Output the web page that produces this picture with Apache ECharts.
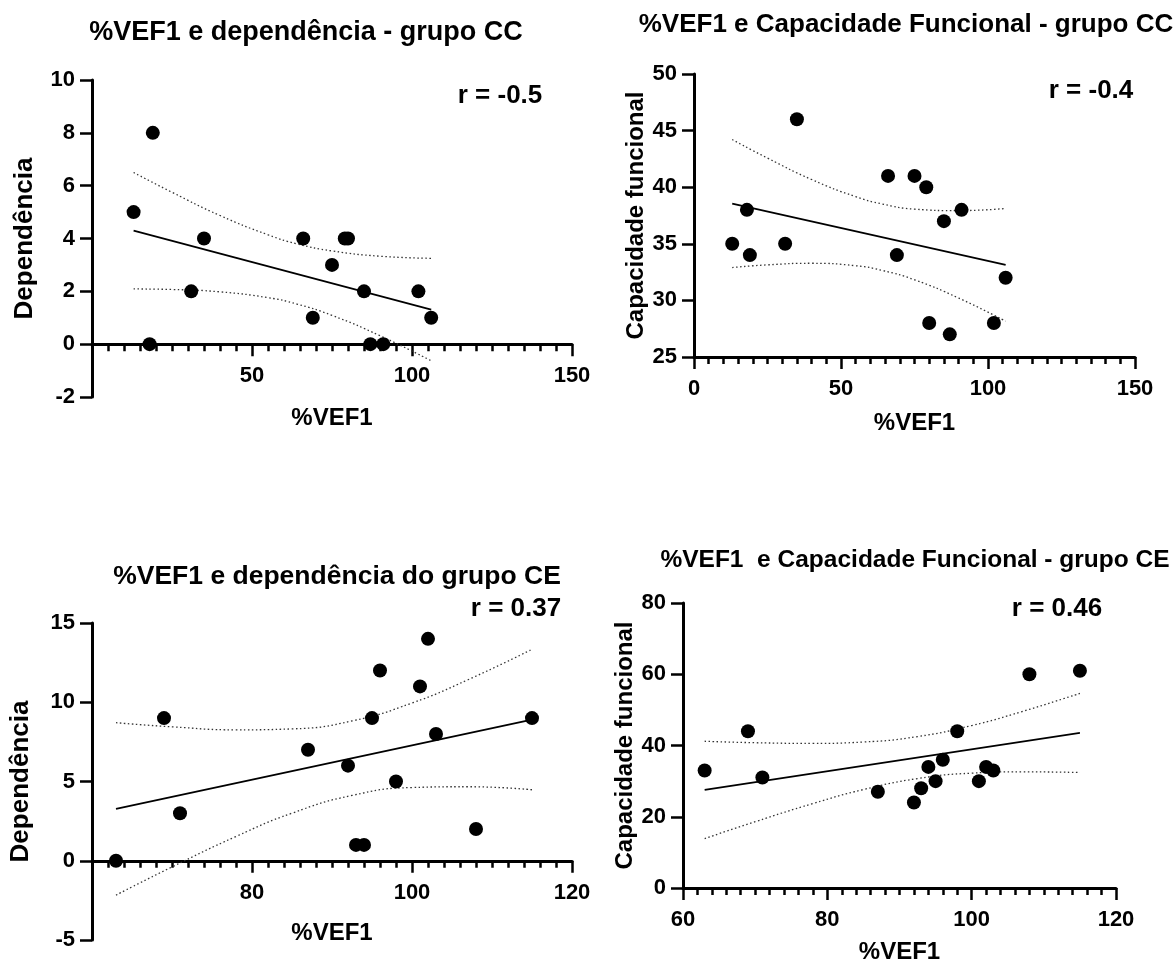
<!DOCTYPE html>
<html>
<head>
<meta charset="utf-8">
<script src="https://cdn.jsdelivr.net/npm/echarts@6/dist/echarts.min.js"></script>
<style>
html,body{margin:0;padding:0;background:#fff;}
#chart{width:1173px;height:965px;}
</style>
</head>
<body>
<div id="chart"></div>
<script>
// ---- data ----
const vef1CC = [13, 18, 19, 31, 35, 66, 69, 75, 79, 80, 85, 87, 91, 102, 106];
const depCC  = [5, 0, 8, 2, 4, 4, 1, 3, 4, 4, 2, 0, 0, 2, 1];
const capCC  = [35, 38, 34, 35, 46, 41, 34, 41, 40, 28, 37, 27, 38, 28, 32];
const vef1CE = [63, 69, 71, 87, 92, 93, 94, 95, 96, 98, 101, 102, 103, 108, 115];
const depCE  = [0, 9, 3, 7, 6, 1, 1, 9, 12, 5, 11, 14, 8, 2, 9];
const capCE  = [33, 44, 31, 27, 24, 28, 34, 30, 36, 44, 30, 34, 33, 60, 61];

// regression lines (end points)
const fitXCC = [13, 106];
const fitDepCC = [4.30, 1.31];
const fitCapCC = [38.55, 33.14];
const fitXCE = [63, 115];
const fitDepCE = [3.27, 8.91];
const fitCapCE = [27.53, 43.53];

// dotted confidence bands
const bandXCC = [13, 25, 40, 55, 64, 75, 90, 106];
const depCCUpper = [6.50, 5.75, 4.87, 4.14, 3.80, 3.53, 3.33, 3.25];
const depCCLower = [2.09, 2.07, 1.98, 1.76, 1.52, 1.09, 0.32, -0.63];
const capCCUpper = [44.21, 42.57, 40.68, 39.16, 38.52, 38.06, 37.93, 38.12];
const capCCLower = [32.90, 33.14, 33.28, 33.06, 32.65, 31.82, 30.21, 28.16];
const bandXCE = [63, 70, 78, 85, 92.5, 100, 107, 115];
const depCEUpper = [8.71, 8.45, 8.26, 8.32, 8.82, 9.95, 11.42, 13.34];
const depCELower = [-2.17, -0.39, 1.53, 3.00, 4.12, 4.62, 4.67, 4.48];
const capCEUpper = [41.19, 40.78, 40.60, 40.98, 42.51, 45.60, 49.54, 54.64];
const capCELower = [13.87, 18.60, 23.70, 27.63, 30.71, 32.24, 32.61, 32.42];

const titles = [
  '%VEF1 e dependência - grupo CC',
  '%VEF1 e Capacidade Funcional - grupo CC',
  '%VEF1 e dependência do grupo CE',
  '%VEF1  e Capacidade Funcional - grupo CE'
];
const rLabels = ['r = -0.5', 'r = -0.4', 'r = 0.37', 'r = 0.46'];
const xName = '%VEF1';
const yNames = ['Dependência', 'Capacidade funcional', 'Dependência', 'Capacidade funcional'];

// ---- helpers ----
const FONT = '"Liberation Sans", Arial, Helvetica, sans-serif';
const zip = (xs, ys) => xs.map((x, i) => [x, ys[i]]);

// grids: [left, top, width, height]
const grids = [
  [92, 80, 480, 317],
  [694, 74, 441, 283],
  [92, 623, 480, 317],
  [683, 603, 433, 287]
];
const yRanges = [[-2, 10, 2], [25, 50, 5], [-5, 15, 5], [0, 80, 20]];

// x axis drawn where y = 0 (or at the bottom if 0 is the minimum)
function zeroOffset(i) {
  const [min, max] = yRanges[i];
  if (min >= 0) return 0;
  return -(0 - min) / (max - min) * grids[i][3];
}

function xAxis(idx, min, max, interval, showMin, nameGap) {
  return {
    type: 'value', gridIndex: idx, min, max, interval,
    position: 'bottom', offset: zeroOffset(idx),
    name: xName, nameLocation: 'middle', nameGap,
    nameTextStyle: { fontFamily: FONT, fontWeight: 'bold', fontSize: 24, color: '#000' },
    axisLine: { show: true, onZero: false, lineStyle: { color: '#000', width: 3 } },
    axisTick: { show: true, length: 12, lineStyle: { color: '#000', width: 2.5 } },
    minorTick: { show: true, splitNumber: 10, length: 7, lineStyle: { color: '#000', width: 2.5 } },
    splitLine: { show: false },
    axisLabel: { show: true, showMinLabel: showMin, margin: 21, fontFamily: FONT, fontWeight: 'bold', fontSize: 22, color: '#000' }
  };
}
function yAxis(idx, name, nameGap, nameSize) {
  const [min, max, interval] = yRanges[idx];
  return {
    type: 'value', gridIndex: idx, min, max, interval,
    name, nameLocation: 'middle', nameGap, nameRotate: 90,
    nameTextStyle: { fontFamily: FONT, fontWeight: 'bold', fontSize: nameSize, color: '#000' },
    axisLine: { show: true, onZero: false, lineStyle: { color: '#000', width: 3 } },
    axisTick: { show: true, length: 12, lineStyle: { color: '#000', width: 2.5 } },
    splitLine: { show: false },
    axisLabel: { show: true, margin: 17, fontFamily: FONT, fontWeight: 'bold', fontSize: 22, color: '#000' }
  };
}
function panelSeries(idx, xs, ys, fx, fy, bx, bu, bl) {
  return [
    { type: 'line', xAxisIndex: idx, yAxisIndex: idx, data: zip(bx, bu), smooth: 0.5, symbol: 'none',
      lineStyle: { color: '#333', width: 1.3, type: [1.5, 2.5] }, silent: true, z: 2 },
    { type: 'line', xAxisIndex: idx, yAxisIndex: idx, data: zip(bx, bl), smooth: 0.5, symbol: 'none',
      lineStyle: { color: '#333', width: 1.3, type: [1.5, 2.5] }, silent: true, z: 2 },
    { type: 'line', xAxisIndex: idx, yAxisIndex: idx, data: zip(fx, fy), symbol: 'none',
      lineStyle: { color: '#000', width: 1.8 }, silent: true, z: 3 },
    { type: 'scatter', xAxisIndex: idx, yAxisIndex: idx, data: zip(xs, ys), symbol: 'circle', symbolSize: 14,
      itemStyle: { color: '#000', opacity: 1 }, z: 4 }
  ];
}

const tStyle = (size) => ({ fontFamily: FONT, fontWeight: 'bold', fontSize: size, color: '#000' });

const option = {
  backgroundColor: '#fff',
  animation: false,
  title: [
    { text: titles[0], left: 301, top: 14, textAlign: 'center', textStyle: tStyle(27) },
    { text: titles[1], left: 901, top: 7, textAlign: 'center', textStyle: tStyle(26) },
    { text: titles[2], left: 332, top: 558, textAlign: 'center', textStyle: tStyle(26.5) },
    { text: titles[3], left: 910, top: 543, textAlign: 'center', textStyle: tStyle(24.5) },
    { text: rLabels[0], left: 495, top: 78, textAlign: 'center', textStyle: tStyle(26) },
    { text: rLabels[1], left: 1086, top: 73, textAlign: 'center', textStyle: tStyle(26) },
    { text: rLabels[2], left: 511, top: 591, textAlign: 'center', textStyle: tStyle(26) },
    { text: rLabels[3], left: 1052, top: 591, textAlign: 'center', textStyle: tStyle(26) }
  ],
  grid: grids.map(g => ({ left: g[0], top: g[1], width: g[2], height: g[3] })),
  xAxis: [
    xAxis(0, 0, 150, 50, false, 62),
    xAxis(1, 0, 150, 50, true, 54),
    xAxis(2, 60, 120, 20, false, 61),
    xAxis(3, 60, 120, 20, true, 52)
  ],
  yAxis: [
    yAxis(0, yNames[0], 54, 26),
    yAxis(1, yNames[1], 46, 24),
    yAxis(2, yNames[2], 58, 26),
    yAxis(3, yNames[3], 45, 24)
  ],
  series: [].concat(
    panelSeries(0, vef1CC, depCC, fitXCC, fitDepCC, bandXCC, depCCUpper, depCCLower),
    panelSeries(1, vef1CC, capCC, fitXCC, fitCapCC, bandXCC, capCCUpper, capCCLower),
    panelSeries(2, vef1CE, depCE, fitXCE, fitDepCE, bandXCE, depCEUpper, depCELower),
    panelSeries(3, vef1CE, capCE, fitXCE, fitCapCE, bandXCE, capCEUpper, capCELower)
  )
};

const chart = echarts.init(document.getElementById('chart'), null, { renderer: 'canvas' });
chart.setOption(option);
</script>
</body>
</html>
